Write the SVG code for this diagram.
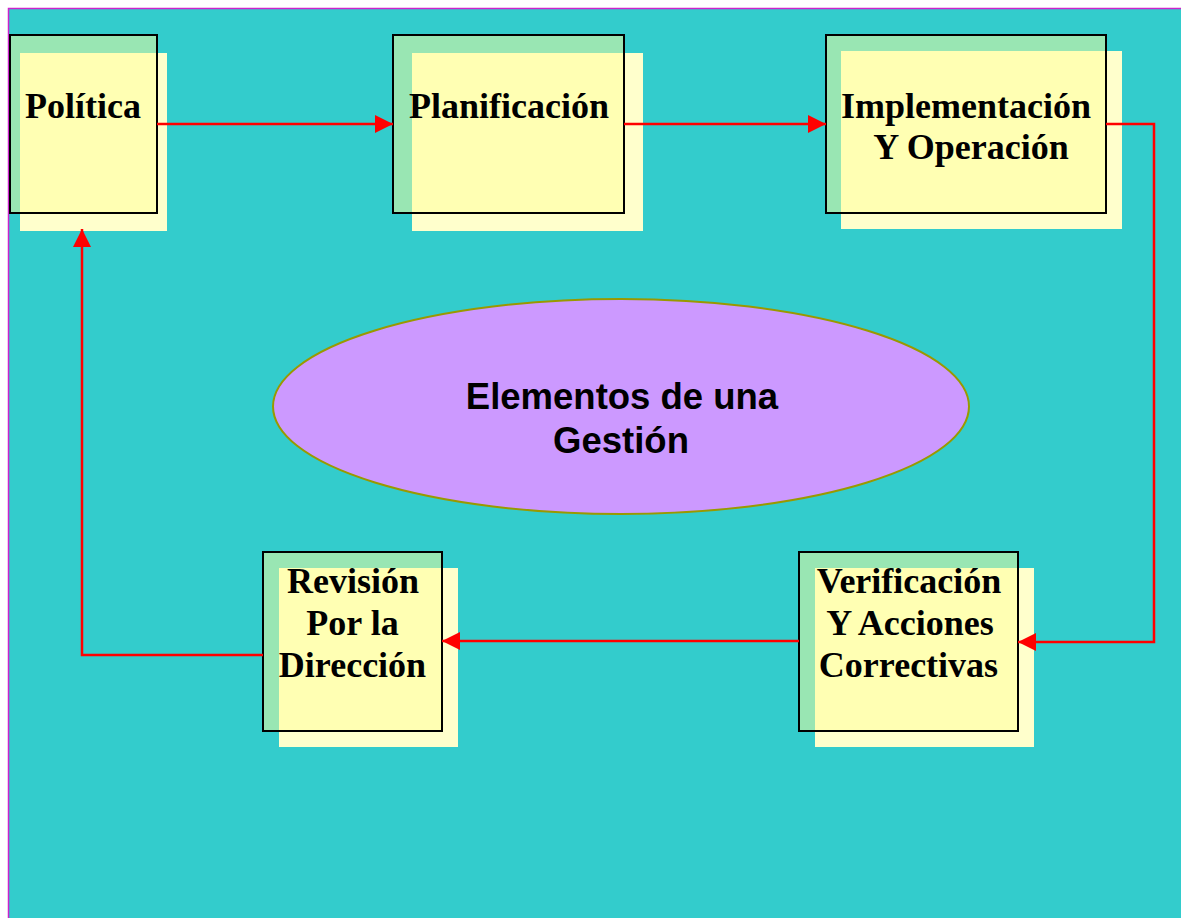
<svg xmlns="http://www.w3.org/2000/svg" width="1181" height="918" viewBox="0 0 1181 918">
<style>
.green{fill:#99E6B3}
.yel{fill:#FFFFCC}
.yin{fill:#FFFFB3}
.border{fill:none;stroke:#000;stroke-width:2}
.lbl{font-family:"Liberation Serif","Times New Roman",serif;font-weight:bold;font-size:36px;fill:#000;text-anchor:middle}
.conn{fill:none;stroke:#FF0000;stroke-width:2.5}
.ctr{font-family:"Liberation Sans",Arial,sans-serif;font-weight:bold;font-size:36.5px;fill:#000;text-anchor:middle}
</style>
<defs>
<marker id="arr" markerUnits="userSpaceOnUse" markerWidth="18" markerHeight="18" viewBox="0 0 16 16" refX="16" refY="8" orient="auto">
<path d="M0,0 L16,8 L0,16 Z" fill="#FF0000"/>
</marker>
</defs>
<rect x="0" y="0" width="1181" height="918" fill="#FFFFFF"/>
<rect x="8.5" y="8.5" width="1200" height="1000" fill="#33CCCC" stroke="#CC22CC" stroke-width="1.5"/>

<g id="node-politica">
<rect class="green" x="10" y="35" width="147" height="178"/>
<rect class="yel" x="20" y="53" width="147" height="178"/>
<rect class="yin" x="20" y="53" width="137" height="160"/>
<rect class="border" x="10" y="35" width="147" height="178"/>
<text class="lbl" x="83" y="118">Política</text>
</g>

<g id="node-planificacion">
<rect class="green" x="393" y="35" width="231" height="178"/>
<rect class="yel" x="412" y="53" width="231" height="178"/>
<rect class="yin" x="412" y="53" width="212" height="160"/>
<rect class="border" x="393" y="35" width="231" height="178"/>
<text class="lbl" x="509" y="118">Planificación</text>
</g>

<g id="node-implementacion">
<rect class="green" x="826" y="35" width="280" height="178"/>
<rect class="yel" x="841" y="51" width="281" height="178"/>
<rect class="yin" x="841" y="51" width="265" height="162"/>
<rect class="border" x="826" y="35" width="280" height="178"/>
<text class="lbl" x="966" y="118">Implementación</text>
<text class="lbl" x="971" y="159">Y Operación</text>
</g>

<g id="node-verificacion">
<rect class="green" x="799" y="552" width="219" height="179"/>
<rect class="yel" x="815" y="568" width="219" height="179"/>
<rect class="yin" x="815" y="568" width="203" height="163"/>
<rect class="border" x="799" y="552" width="219" height="179"/>
<text class="lbl" x="909" y="593">Verificación</text>
<text class="lbl" x="910" y="635">Y Acciones</text>
<text class="lbl" x="908.5" y="677">Correctivas</text>
</g>

<g id="node-revision">
<rect class="green" x="263" y="552" width="179" height="179"/>
<rect class="yel" x="279" y="568" width="179" height="179"/>
<rect class="yin" x="279" y="568" width="163" height="163"/>
<rect class="border" x="263" y="552" width="179" height="179"/>
<text class="lbl" x="353" y="593">Revisión</text>
<text class="lbl" x="352.5" y="635">Por la</text>
<text class="lbl" x="352.5" y="677">Dirección</text>
</g>

<g id="node-center">
<ellipse cx="621" cy="406.5" rx="348" ry="107.5" fill="#CC99FF" stroke="#999900" stroke-width="2"/>
<text class="ctr" x="622" y="409">Elementos de una</text>
<text class="ctr" x="621" y="453">Gestión</text>
</g>

<g id="connectors">
<path class="conn" d="M157,124 L393,124" marker-end="url(#arr)"/>
<path class="conn" d="M624,124 L826,124" marker-end="url(#arr)"/>
<path class="conn" d="M1106,124 L1154,124 L1154,642 L1018,642" marker-end="url(#arr)"/>
<path class="conn" d="M799,641 L442,641" marker-end="url(#arr)"/>
<path class="conn" d="M263,655 L82,655 L82,229" marker-end="url(#arr)"/>
</g>
</svg>
